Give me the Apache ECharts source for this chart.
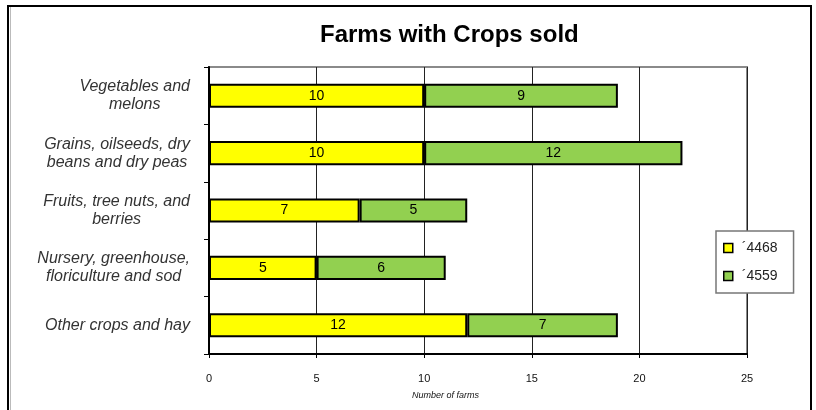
<!DOCTYPE html>
<html>
<head>
<meta charset="utf-8">
<script src="https://cdn.jsdelivr.net/npm/echarts@6/dist/echarts.min.js"></script>
<style>html,body{margin:0;padding:0;background:#fff;}#c{width:816px;height:410px;}</style>
</head>
<body>
<div id="c"></div>
<script>
const categories = [
  "Other crops and hay",
  "Nursery, greenhouse,\nfloriculture and sod",
  "Fruits, tree nuts, and\nberries",
  "Grains, oilseeds, dry\nbeans and dry peas",
  "Vegetables and\nmelons"
];
const seriesNames = ["\u00b44468", "\u00b44559"];
const values4468 = [12, 5, 7, 10, 10];
const values4559 = [7, 6, 5, 12, 9];
const xTicks = [0, 5, 10, 15, 20, 25];

const chart = echarts.init(document.getElementById('c'), null, {renderer: 'canvas'});
const font = 'Liberation Sans, Arial, sans-serif';
const labelCfg = {show: true, position: 'inside', color: '#000', fontSize: 14, fontFamily: font};
chart.setOption({
  animation: false,
  backgroundColor: '#fff',
  title: {
    text: 'Farms with Crops sold',
    left: 315, top: 18,
    textStyle: {fontSize: 24, fontWeight: 'bold', color: '#000', fontFamily: font}
  },
  legend: {
    orient: 'vertical',
    left: 716, top: 231,
    padding: [10, 16, 10, 7],
    itemGap: 14,
    itemWidth: 9, itemHeight: 9,
    borderColor: '#777', borderWidth: 1.5,
    backgroundColor: '#fff',
    icon: 'rect',
    textStyle: {fontSize: 14, color: '#222', fontFamily: font, padding: [0, 0, 0, 4]},
    data: seriesNames.map(n => ({name: n, itemStyle: {borderColor: '#000', borderWidth: 1.5}}))
  },
  grid: {
    left: 209, top: 67, right: 69, bottom: 56,
    show: true, borderColor: '#8a8a8a', borderWidth: 2, backgroundColor: 'transparent'
  },
  xAxis: {
    type: 'value', min: xTicks[0], max: xTicks[xTicks.length - 1], interval: 5,
    axisLine: {show: true, lineStyle: {color: '#000', width: 2}},
    axisTick: {show: true, length: 4, lineStyle: {color: '#000'}},
    axisLabel: {fontSize: 11, color: '#111', margin: 19, fontFamily: font},
    splitLine: {show: true, lineStyle: {color: '#222', width: 1}}
  },
  yAxis: {
    type: 'category', data: categories,
    axisLine: {show: true, lineStyle: {color: '#000', width: 2}},
    axisTick: {show: true, length: 5, lineStyle: {color: '#000'}},
    axisLabel: {
      fontSize: 16, color: '#333', fontStyle: 'italic', fontFamily: font, margin: 19, lineHeight: 18, align: 'right',
      formatter: v => v.split('\n').map(l => '{c|' + l + '}').join('\n'),
      rich: {c: {align: 'center', fontSize: 16, fontStyle: 'italic', fontFamily: font, color: '#333', lineHeight: 18}}
    },
    splitLine: {show: false}
  },
  graphic: [
    {type: 'rect', shape: {x: 8, y: 6, width: 803, height: 420}, style: {fill: 'none', stroke: '#000', lineWidth: 2}, z: 100},
    {type: 'line', shape: {x1: 10.5, y1: 7, x2: 10.5, y2: 420}, style: {stroke: '#bbb', lineWidth: 1}, z: 100},
    {type: 'text', left: 412, top: 391, style: {text: 'Number of farms', fontSize: 9, fontStyle: 'italic', fill: '#111', fontFamily: font}}
  ],
  series: [
    {
      name: seriesNames[0], type: 'bar', stack: 'a', data: values4468,
      barCategoryGap: '58%',
      itemStyle: {color: '#ffff00', borderColor: '#000', borderWidth: 2},
      label: labelCfg
    },
    {
      name: seriesNames[1], type: 'bar', stack: 'a', data: values4559,
      barCategoryGap: '58%',
      itemStyle: {color: '#92d050', borderColor: '#000', borderWidth: 2},
      label: labelCfg
    }
  ]
});
</script>
</body>
</html>
